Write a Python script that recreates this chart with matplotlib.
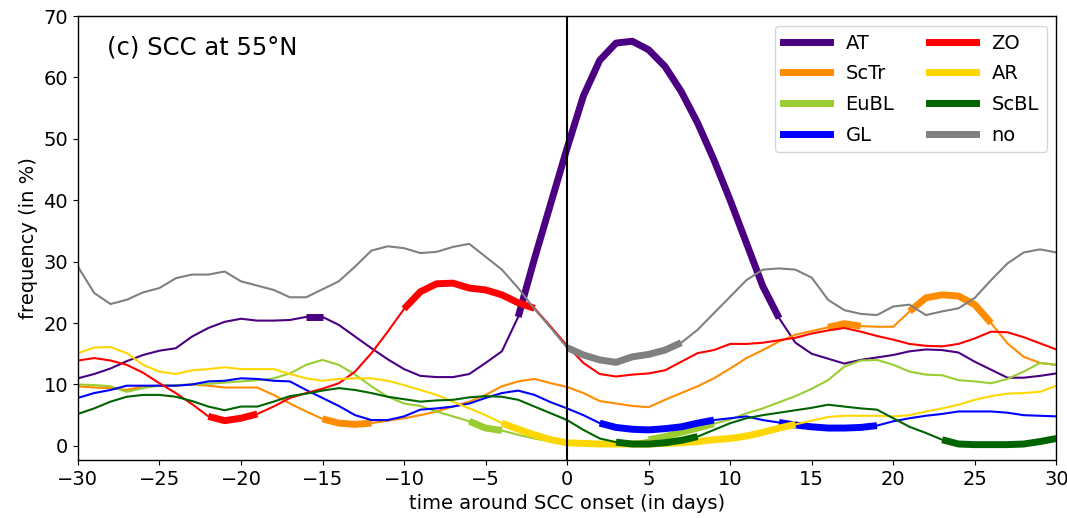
import matplotlib
matplotlib.use("Agg")
import matplotlib.pyplot as plt
import numpy as np

plt.rcParams.update({
    "font.family": "DejaVu Sans",
    "font.size": 14,
    "axes.linewidth": 1.0,
})

days = np.arange(-30, 31)

# regime frequencies (in %), one value per day from -30 to 30
at = [11.0, 11.7, 12.6, 13.8, 14.8, 15.5, 15.9, 17.8, 19.2, 20.2, 20.7, 20.4, 20.4, 20.5, 21.0, 21.0,
      19.7, 17.8, 15.9, 14.1, 12.5, 11.4, 11.2, 11.2, 11.7, 13.5, 15.4, 21.0, 30.5, 39.5, 48.5,
      57.0, 62.8, 65.6, 65.9, 64.5, 61.8, 57.7, 52.6, 46.6, 40.0, 33.0, 26.0, 20.8, 16.8, 15.0,
      14.2, 13.4, 14.0, 14.4, 14.8, 15.4, 15.7, 15.6, 15.2, 13.7, 12.4, 11.1, 11.1, 11.4, 11.8]
zo = [13.9, 14.3, 13.9, 13.2, 11.9, 10.2, 8.6, 6.8, 4.8, 4.1, 4.5, 5.2, 6.4, 7.8, 8.6, 9.3,
      10.2, 12.1, 15.1, 18.6, 22.3, 25.1, 26.4, 26.5, 25.7, 25.4, 24.6, 23.3, 22.4, 19.4, 16.3,
      13.5, 11.7, 11.3, 11.6, 11.8, 12.3, 13.7, 15.1, 15.6, 16.6, 16.6, 16.8, 17.2, 17.6, 18.3,
      18.8, 19.2, 18.6, 17.9, 17.3, 16.6, 16.3, 16.2, 16.6, 17.5, 18.6, 18.5, 17.7, 16.7, 15.7]
sctr = [9.7, 9.5, 9.4, 9.1, 9.7, 9.8, 9.8, 10.0, 9.8, 9.5, 9.5, 9.5, 8.3, 6.9, 5.6, 4.4,
        3.7, 3.5, 3.7, 4.1, 4.5, 5.0, 5.6, 6.4, 7.2, 8.3, 9.7, 10.5, 10.9, 10.2, 9.6,
        8.6, 7.3, 6.9, 6.5, 6.3, 7.5, 8.6, 9.7, 11.0, 12.6, 14.3, 15.6, 17.0, 18.1, 18.7,
        19.3, 19.9, 19.5, 19.4, 19.4, 21.9, 24.1, 24.6, 24.4, 23.0, 20.0, 16.7, 14.5, 13.5, 13.2]
ar = [15.1, 16.0, 16.1, 15.1, 13.2, 12.1, 11.7, 12.3, 12.5, 12.8, 12.5, 12.5, 12.5, 11.7, 11.0, 10.6,
      10.9, 11.0, 11.0, 10.6, 9.9, 9.1, 8.3, 7.2, 6.1, 5.0, 3.7, 2.7, 1.8, 1.0, 0.5,
      0.4, 0.3, 0.3, 0.3, 0.3, 0.4, 0.5, 0.7, 1.0, 1.2, 1.6, 2.2, 2.9, 3.5, 4.1,
      4.7, 4.9, 4.9, 4.9, 4.8, 5.0, 5.6, 6.1, 6.7, 7.5, 8.1, 8.5, 8.6, 8.8, 9.8]
eubl = [10.0, 9.9, 9.7, 8.8, 9.4, 9.8, 9.9, 10.0, 10.1, 10.3, 10.5, 10.7, 11.0, 11.8, 13.2, 14.0,
        13.2, 11.6, 9.7, 8.0, 6.9, 6.5, 5.6, 4.8, 4.0, 2.9, 2.5, 1.8, 1.2, 0.7, 0.3,
        0.3, 0.3, 0.4, 0.5, 1.0, 1.5, 2.2, 2.9, 3.6, 4.3, 5.3, 6.1, 7.1, 8.1, 9.3,
        10.7, 12.9, 13.9, 14.0, 13.2, 12.1, 11.6, 11.5, 10.7, 10.5, 10.2, 10.9, 12.1, 13.5, 13.2]
scbl = [5.2, 6.1, 7.2, 8.0, 8.3, 8.3, 8.0, 7.3, 6.4, 5.8, 6.4, 6.4, 7.2, 8.1, 8.5, 9.0,
        9.4, 9.1, 8.6, 8.0, 7.6, 7.2, 7.4, 7.5, 7.9, 8.1, 8.0, 7.5, 6.4, 5.3, 4.2,
        2.6, 1.2, 0.6, 0.3, 0.3, 0.5, 0.9, 1.5, 2.6, 3.7, 4.5, 5.0, 5.4, 5.8, 6.2,
        6.7, 6.4, 6.1, 5.9, 4.5, 3.1, 2.1, 1.0, 0.3, 0.2, 0.2, 0.2, 0.3, 0.7, 1.2]
gl = [7.8, 8.6, 9.1, 9.8, 9.8, 9.8, 9.8, 10.0, 10.5, 10.6, 11.0, 10.9, 10.6, 10.5, 9.1, 7.8,
      6.5, 5.0, 4.2, 4.2, 4.8, 5.9, 6.1, 6.4, 6.9, 7.8, 8.6, 9.0, 8.3, 7.1, 6.1,
      5.0, 3.7, 3.0, 2.7, 2.6, 2.8, 3.1, 3.7, 4.2, 4.5, 4.8, 4.2, 3.8, 3.4, 3.1,
      2.9, 2.9, 3.0, 3.3, 4.0, 4.5, 4.9, 5.2, 5.6, 5.6, 5.6, 5.4, 5.0, 4.9, 4.8]
no = [29.2, 24.9, 23.1, 23.8, 25.0, 25.7, 27.3, 27.9, 27.9, 28.4, 26.8, 26.1, 25.4, 24.2, 24.2, 25.5,
      26.8, 29.2, 31.8, 32.5, 32.2, 31.4, 31.6, 32.4, 32.9, 30.8, 28.7, 25.7, 22.3, 19.2, 16.0,
      14.8, 14.0, 13.6, 14.5, 14.9, 15.6, 16.8, 18.9, 21.6, 24.3, 27.0, 28.7, 28.9, 28.7, 27.4,
      23.8, 22.1, 21.5, 21.3, 22.7, 23.0, 21.3, 21.9, 22.4, 24.1, 27.0, 29.7, 31.5, 32.0, 31.5]

# significant periods (day ranges drawn thick)
sig_at = [(-16, -15), (-3, 13)]
sig_zo = [(-22, -19), (-10, -2)]
sig_sctr = [(-15, -12), (16, 18), (21, 26)]
sig_ar = [(-4, 14)]
sig_eubl = [(-6, -4), (5, 9)]
sig_scbl = [(3, 8), (23, 30)]
sig_gl = [(2, 9), (13, 19)]
sig_no = [(0, 7)]

regimes = [
    ("AT", at, sig_at, "indigo"),
    ("ScTr", sctr, sig_sctr, "darkorange"),
    ("EuBL", eubl, sig_eubl, "yellowgreen"),
    ("GL", gl, sig_gl, "blue"),
    ("ZO", zo, sig_zo, "red"),
    ("AR", ar, sig_ar, "gold"),
    ("ScBL", scbl, sig_scbl, "darkgreen"),
    ("no", no, sig_no, "grey"),
]

fig = plt.figure(figsize=(10.67, 5.18), dpi=100)
ax = fig.add_axes([0.073, 0.112, 0.917, 0.857])

for label, vals, sig, color in regimes:
    vals = np.array(vals)
    ax.plot(days, vals, color=color, lw=1.5, label=label)
    for d0, d1 in sig:
        m = (days >= d0) & (days <= d1)
        ax.plot(days[m], vals[m], color=color, lw=5, solid_capstyle="butt")

ax.axvline(0, color="black", lw=1.5)
ax.set_xlim(-30, 30)
ax.set_ylim(-2.3, 70)
ax.set_xticks(np.arange(-30, 31, 5))
ax.set_yticks(np.arange(0, 71, 10))
ax.set_xlabel("time around SCC onset (in days)")
ax.set_ylabel("frequency (in %)")
ax.text(0.03, 0.93, "(c) SCC at 55°N", transform=ax.transAxes, fontsize=17.5,
        va="center", ha="left")

leg = ax.legend(ncol=2, loc="upper right", handlelength=2.4, columnspacing=1.8,
                labelspacing=0.6)
for h in leg.legend_handles:
    h.set_linewidth(5)

plt.savefig("out.png", dpi=100)
